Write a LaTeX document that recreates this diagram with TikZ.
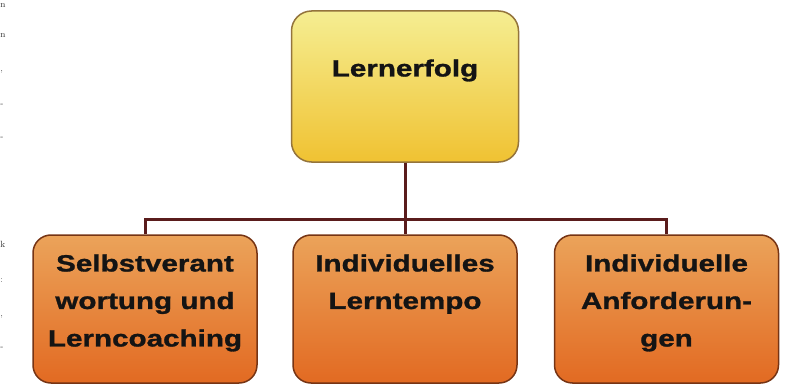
\documentclass[tikz,border=0pt]{standalone}
\usepackage{fontspec}
\usepackage{xcolor}
\usepackage{tikz}
\usetikzlibrary{positioning, calc}

\newfontfamily\boxfont[FakeStretch=1.26, FakeBold=1.2]{Liberation Sans}

\definecolor{goaltop}{HTML}{F5EE92}
\definecolor{goalbot}{HTML}{F0C232}
\definecolor{goalline}{HTML}{94743C}
\definecolor{factop}{HTML}{EBA35A}
\definecolor{facbot}{HTML}{E26A22}
\definecolor{facline}{HTML}{763414}
\definecolor{linkcol}{HTML}{5A1C1C}

\begin{document}
\begin{tikzpicture}[
    x=1pt, y=-1pt,
    goalbox/.style={draw=goalline, line width=1.5pt, rounded corners=20pt, top color=goaltop, bottom color=goalbot, minimum width=227pt, minimum height=151pt, inner sep=0pt},
    factorbox/.style={draw=facline, line width=1.5pt, rounded corners=18pt, top color=factop, bottom color=facbot, minimum width=224pt, minimum height=148pt, inner sep=0pt},
    boxtext/.style={font=\boxfont\bfseries\fontsize{23.5}{37.5}\selectfont, align=center, inner sep=0pt, text=black!92},
    cut/.style={font=\fontsize{9}{10}\selectfont, text=black!80, inner sep=0pt, anchor=base west},
    link/.style={draw=linkcol, line width=3pt}
]

\useasboundingbox (0,0) rectangle (787,385);

% Ends of the page text at the left edge
\node[cut] (c1) at (0.3,8) {n};
\node[cut] (c2) at (0.3,38) {n};
\node[cut] (c3) at (0.3,72) {,};
\node[cut] (c4) at (0.3,107) {-};
\node[cut] (c5) at (0.3,140) {-};
\node[cut] (c6) at (0.3,247) {k};
\node[cut] (c7) at (0.3,282) {:};
\node[cut] (c8) at (0.3,316) {,};
\node[cut] (c9) at (0.3,349) {-};

% Goal (top)
\node[goalbox] (goal) at (405,86.5) {};
\node[boxtext, below=49pt of goal.north] (goal_txt) {Lernerfolg};

% Factors (bottom)
\node[factorbox] (selbst) at (145,309) {};
\node[factorbox] (tempo) at (405,309) {};
\node[factorbox] (anford) at (666.5,309) {};

\node[boxtext, below=20pt of selbst.north] (selbst_txt) {Selbstverant\\wortung und\\Lerncoaching};
\node[boxtext, below=20pt of tempo.north] (tempo_txt) {Individuelles\\Lerntempo};
\node[boxtext, below=20pt of anford.north] (anford_txt) {Individuelle\\Anforderun-\\gen};

% Connectors
\coordinate (bar) at (405,219);
\draw[link] (goal.south) -- (tempo.north);
\draw[link] (selbst.north) |- (bar);
\draw[link] (anford.north) |- (bar);

\end{tikzpicture}
\end{document}
